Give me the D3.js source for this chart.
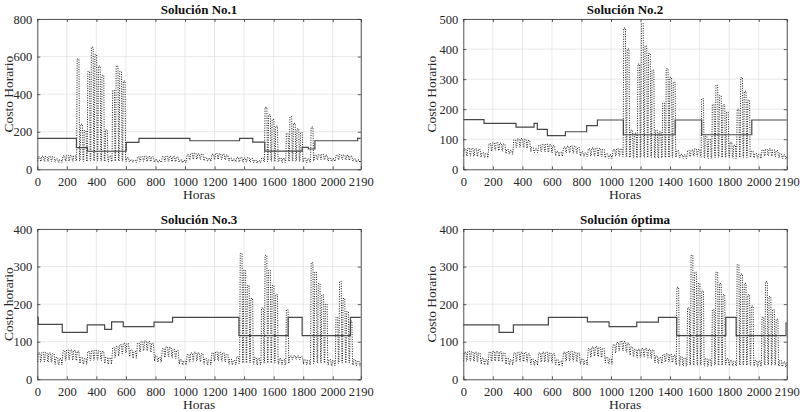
<!DOCTYPE html>
<html>
<head>
<meta charset="utf-8">
<script src="https://d3js.org/d3.v7.min.js"></script>
<style>
  body { margin: 0; background: #fff; }
  svg { font-family: "Liberation Serif", "Times New Roman", serif; }
  .grid { stroke: #dfdfdf; stroke-width: 0.7; }
  .cost { fill: none; stroke: #000; stroke-width: 0.9; stroke-dasharray: 1,1.4; }
  .step { fill: none; stroke: #474747; stroke-width: 1.2; }
  .axis path, .axis line { stroke: #333; stroke-width: 0.8; }
  .title { font-size: 13px; font-weight: bold; fill: #111; text-anchor: middle; }
  .label { font-size: 13.5px; fill: #262626; text-anchor: middle; }
</style>
</head>
<body>
<svg id="chart" width="800" height="412"></svg>
<script>
// horas, ticks del eje x
var xTicks = [0, 200, 400, 600, 800, 1000, 1200, 1400, 1600, 1800, 2000, 2190];

var titles = ["Solución No.1", "Solución No.2", "Solución No.3", "Solución óptima"];
var yLabels = ["Costo Horario", "Costo Horario", "Costo horario", "Costo Horario"];
var yMaxs = [800, 500, 400, 400];
var yTickSets = [
  [0, 200, 400, 600, 800],
  [0, 100, 200, 300, 400, 500],
  [0, 100, 200, 300, 400],
  [0, 100, 200, 300, 400]
];

// costo horario: pico y valle de cada dia (dia 0..91)
var p1Peak = [66,70,68,69,67,55,50,
  72,74,73,72,587,240,206,
  520,650,610,550,500,210,70,
  420,550,520,470,62,50,48,
  66,68,70,68,66,52,48,
  68,70,69,67,65,50,47,
  78,84,85,82,80,62,58,
  80,84,82,80,76,60,55,
  64,62,60,62,58,48,45,
  60,330,290,265,230,60,58,
  190,280,245,215,195,60,55,
  225,75,78,80,76,60,56,
  74,78,76,74,70,55,50,
  45];
var p1Low = [42,43,42,43,42,38,36,
  44,45,44,44,45,44,42,
  45,46,45,45,44,42,40,
  44,45,44,44,42,38,36,
  42,43,43,42,42,38,36,
  42,43,42,42,41,37,35,
  50,54,55,54,52,45,42,
  52,54,53,52,50,44,42,
  40,40,39,40,38,34,33,
  38,42,43,42,42,38,36,
  42,44,43,43,42,38,36,
  44,50,52,52,50,44,42,
  50,52,52,50,48,42,38,
  36];

var p2Peak = [68,70,69,68,66,55,52,
  85,88,89,87,84,66,62,
  98,101,102,100,96,72,68,
  80,83,84,82,78,60,56,
  74,77,78,76,72,58,54,
  68,71,70,69,66,52,48,
  66,68,67,470,400,130,120,
  350,485,410,385,330,130,125,
  220,335,305,290,62,50,48,
  62,64,68,66,235,110,100,
  215,280,245,215,190,90,80,
  200,305,260,230,60,52,50,
  64,66,68,65,62,52,48,
  45];
var p2Low = [44,45,44,44,43,40,38,
  60,63,64,62,60,52,50,
  72,74,74,72,70,58,55,
  58,60,58,57,55,45,43,
  54,56,55,54,52,44,42,
  44,45,44,43,42,38,36,
  44,45,44,42,40,40,38,
  40,40,40,40,40,38,38,
  40,40,40,40,42,38,36,
  42,44,44,43,40,38,36,
  40,40,40,40,40,38,36,
  40,40,40,40,42,38,36,
  44,45,46,44,42,38,35,
  34];

var p3Peak = [70,72,71,70,68,58,55,
  76,78,78,77,75,58,55,
  74,76,77,76,74,58,56,
  84,88,92,96,95,78,74,
  96,100,102,100,96,62,58,
  82,86,85,80,76,52,48,
  66,70,72,70,68,55,52,
  70,73,72,70,66,54,50,
  60,335,290,250,215,58,55,
  190,330,290,250,225,55,52,
  185,62,63,62,60,52,50,
  310,285,255,225,200,52,50,
  165,260,215,180,155,52,48,
  46];
var p3Low = [46,47,47,46,45,40,38,
  50,52,52,51,50,42,40,
  50,51,52,51,50,42,40,
  58,62,68,72,70,60,56,
  72,76,78,76,72,48,45,
  58,62,60,58,55,40,38,
  46,48,50,48,46,40,38,
  48,50,50,48,46,40,38,
  42,44,44,44,44,40,38,
  42,44,44,44,44,40,38,
  42,52,54,53,52,40,38,
  42,44,44,44,44,38,36,
  42,44,44,44,44,38,36,
  35];

var p4Peak = [72,74,73,72,70,56,52,
  72,74,74,73,70,56,52,
  70,72,72,71,68,54,50,
  70,72,72,70,68,52,48,
  72,74,74,72,70,54,50,
  82,86,87,85,82,58,54,
  92,98,101,100,96,86,80,
  80,82,82,80,78,62,58,
  66,68,66,64,245,60,56,
  190,330,285,255,235,55,52,
  185,285,255,225,55,50,48,
  305,280,255,225,195,50,48,
  165,260,220,185,160,50,46,
  45];
var p4Low = [48,49,49,48,47,40,38,
  48,49,49,48,47,40,38,
  47,48,48,47,46,39,37,
  46,47,47,46,45,38,36,
  48,49,49,48,47,40,38,
  58,62,62,60,58,44,40,
  70,75,78,76,72,64,60,
  58,60,60,58,55,44,42,
  46,47,46,45,38,36,35,
  38,38,38,38,38,35,34,
  38,38,38,38,40,36,35,
  38,38,38,38,38,35,34,
  38,38,38,38,38,35,34,
  33];

// costo escalonado: hora de inicio de cada tramo y su valor
var step1Hours = [0, 265, 340, 602, 688, 1033, 1369, 1459, 1540, 1793, 1835, 1879, 2168];
var step1Values = [165, 115, 96, 143, 165, 152, 165, 145, 97, 117, 108, 152, 165];
var step2Hours = [0, 140, 357, 479, 501, 569, 691, 835, 908, 1084, 1434, 1614, 1953];
var step2Values = [165, 153, 140, 153, 133, 112, 125, 145, 164, 115, 164, 115, 164];
var step3Hours = [0, 6, 169, 338, 456, 503, 582, 790, 916, 1365, 1698, 1793, 2120];
var step3Values = [165, 146, 125, 145, 133, 153, 140, 152, 165, 116, 165, 116, 165];
var step4Hours = [0, 242, 339, 576, 840, 987, 1174, 1321, 1445, 1777, 1847, 2185];
var step4Values = [145, 125, 145, 165, 153, 140, 152, 165, 116, 165, 116, 150];

var peaks = [p1Peak, p2Peak, p3Peak, p4Peak];
var lows = [p1Low, p2Low, p3Low, p4Low];
var stepHours = [step1Hours, step2Hours, step3Hours, step4Hours];
var stepValues = [step1Values, step2Values, step3Values, step4Values];

var hourMax = 2190;
var plotW = 323.5, plotH = 150.3;
var origins = [[37.3, 19], [463.3, 19], [37.3, 229], [463.3, 229]];

var svg = d3.select("#chart");
var x = d3.scaleLinear().domain([0, hourMax]).range([0, plotW]);

// perfil diario: valle de madrugada, pico durante el dia, valle de noche
function dailyPoints(peak, low) {
  var pts = [];
  peak.forEach(function(p, d) {
    var h0 = d * 24;
    pts.push([h0 + 2, low[d]], [h0 + 6, p], [h0 + 18, p], [h0 + 22, low[d]]);
  });
  return pts.filter(function(q) { return q[0] <= hourMax; });
}

function styleAxis(sel) {
  sel.attr("font-family", null).attr("font-size", null);
  sel.selectAll("text")
    .style("font-family", "'Liberation Serif', 'Times New Roman', serif")
    .style("font-size", "12.5px")
    .style("fill", "#262626");
}

titles.forEach(function(title, i) {
  var g = svg.append("g")
    .attr("transform", "translate(" + origins[i][0] + "," + origins[i][1] + ")");
  var y = d3.scaleLinear().domain([0, yMaxs[i]]).range([plotH, 0]);

  g.append("clipPath").attr("id", "clip" + i)
    .append("rect").attr("width", plotW).attr("height", plotH);

  g.append("g").selectAll("line").data(xTicks).enter().append("line")
    .attr("class", "grid")
    .attr("x1", function(d) { return x(d); }).attr("x2", function(d) { return x(d); })
    .attr("y1", 0).attr("y2", plotH);
  g.append("g").selectAll("line").data(yTickSets[i]).enter().append("line")
    .attr("class", "grid")
    .attr("x1", 0).attr("x2", plotW)
    .attr("y1", function(d) { return y(d); }).attr("y2", function(d) { return y(d); });

  var plot = g.append("g").attr("clip-path", "url(#clip" + i + ")");

  var line = d3.line()
    .x(function(d) { return x(d[0]); })
    .y(function(d) { return y(d[1]); });

  plot.append("path")
    .datum(dailyPoints(peaks[i], lows[i]))
    .attr("class", "cost")
    .attr("d", line);

  var st = stepHours[i].map(function(h, k) { return [h, stepValues[i][k]]; });
  st.push([hourMax, stepValues[i][stepValues[i].length - 1]]);
  plot.append("path")
    .datum(st)
    .attr("class", "step")
    .attr("d", line.curve(d3.curveStepAfter));

  g.append("g").attr("class", "axis")
    .attr("transform", "translate(0," + plotH + ")")
    .call(d3.axisBottom(x).tickValues(xTicks).tickFormat(d3.format("d"))
      .tickSizeInner(-3).tickSizeOuter(0).tickPadding(7.6))
    .call(styleAxis);
  g.append("g").attr("class", "axis")
    .call(d3.axisTop(x).tickValues(xTicks).tickFormat("")
      .tickSizeInner(-3).tickSizeOuter(0));
  g.append("g").attr("class", "axis")
    .call(d3.axisLeft(y).tickValues(yTickSets[i]).tickFormat(d3.format("d"))
      .tickSizeInner(-3).tickSizeOuter(0).tickPadding(5))
    .call(styleAxis);
  g.append("g").attr("class", "axis")
    .attr("transform", "translate(" + plotW + ",0)")
    .call(d3.axisRight(y).tickValues(yTickSets[i]).tickFormat("")
      .tickSizeInner(-3).tickSizeOuter(0));

  g.append("text").attr("class", "title")
    .attr("x", plotW / 2).attr("y", -4.6)
    .text(title);

  g.append("text").attr("class", "label")
    .attr("x", plotW / 2).attr("y", plotH + 29.5)
    .text("Horas");

  g.append("text").attr("class", "label")
    .attr("transform", "translate(" + (i % 2 === 0 ? -24.5 : -27.1) + "," + (plotH / 2) + ") rotate(-90)")
    .text(yLabels[i]);
});
</script>
</body>
</html>
